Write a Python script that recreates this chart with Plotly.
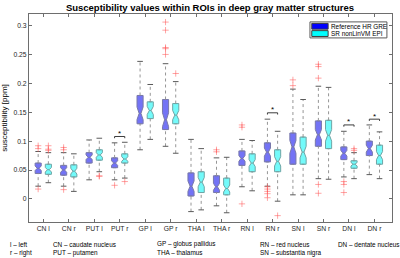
import plotly.graph_objects as go

regions = ["CN l", "CN r", "PUT l", "PUT r", "GP l", "GP r", "THA l", "THA r",
           "RN l", "RN r", "SN l", "SN r", "DN l", "DN r"]

# Reference HR GRE
ref_q1 = [0.044, 0.041, 0.062, 0.054, 0.130, 0.120, 0.005, 0.011, 0.058, 0.064, 0.060, 0.091, 0.068, 0.075]
ref_med = [0.053, 0.050, 0.072, 0.062, 0.148, 0.137, 0.022, 0.021, 0.070, 0.081, 0.090, 0.111, 0.079, 0.087]
ref_q3 = [0.062, 0.058, 0.080, 0.071, 0.179, 0.172, 0.045, 0.040, 0.083, 0.097, 0.114, 0.135, 0.090, 0.100]
ref_lo = [0.022, 0.022, 0.033, 0.033, 0.085, 0.091, -0.022, -0.012, 0.021, 0.022, 0.007, 0.035, 0.038, 0.042]
ref_hi = [0.082, 0.080, 0.102, 0.097, 0.238, 0.234, 0.103, 0.071, 0.103, 0.138, 0.190, 0.195, 0.117, 0.128]
ref_notch = [0.004, 0.004, 0.004, 0.004, 0.011, 0.012, 0.009, 0.006, 0.005, 0.007, 0.011, 0.009, 0.005, 0.006]
ref_out = [[0.092, 0.087, 0.017], [0.089, 0.085, 0.016], [], [0.0235], [],
           [0.306, 0.292, 0.262, 0.260, 0.250], [], [0.085, 0.0815],
           [0.128, 0.124, -0.0086], [0.021, 0.017, 0.013, 0.009, 0.002],
           [0.206, 0.196], [0.233, 0.229, 0.209, 0.025, 0.0097], [0.030, 0.025, 0.011], []]

# SR nonLinVM EPI
sr_q1 = [0.0425, 0.038, 0.067, 0.062, 0.139, 0.130, 0.011, 0.007, 0.047, 0.047, 0.060, 0.087, 0.053, 0.060]
sr_med = [0.0505, 0.048, 0.076, 0.069, 0.153, 0.145, 0.029, 0.018, 0.062, 0.065, 0.081, 0.110, 0.060, 0.075]
sr_q3 = [0.060, 0.059, 0.085, 0.078, 0.168, 0.165, 0.047, 0.036, 0.078, 0.085, 0.107, 0.136, 0.066, 0.093]
sr_lo = [0.028, 0.013, 0.047, 0.036, 0.103, 0.079, -0.019, -0.024, 0.014, -0.004, 0.007, 0.034, 0.035, 0.035]
sr_hi = [0.080, 0.078, 0.105, 0.098, 0.198, 0.203, 0.087, 0.072, 0.101, 0.117, 0.172, 0.193, 0.080, 0.116]
sr_notch = [0.004, 0.005, 0.004, 0.004, 0.007, 0.008, 0.008, 0.006, 0.006, 0.008, 0.010, 0.010, 0.003, 0.007]
sr_out = [[0.092, 0.086, 0.084], [], [0.040, 0.039], [0.030], [], [0.217], [], [],
          [], [-0.029], [], [], [0.087, 0.084], []]

# significance markers (region index, bracket height)
sig_idx = [3, 9, 12, 13]
sig_y = [0.108, 0.149, 0.128, 0.138]

legend_labels = ["Reference HR GRE", "SR nonLinVM EPI"]
legend_colors = ["rgb(0,0,255)", "rgb(0,255,255)"]
footnotes = [
    ("l – left", -0.058, -0.106), ("r – right", -0.058, -0.149),
    ("CN – caudate nucleus", 0.06, -0.106), ("PUT – putamen", 0.06, -0.149),
    ("GP – globus pallidus", 0.347, -0.106), ("THA – thalamus", 0.347, -0.149),
    ("RN – red nucleus", 0.631, -0.106), ("SN – substantia nigra", 0.631, -0.149),
    ("DN – dentate nucleus", 0.845, -0.106),
]

OFF = 0.2
BW = 0.24
pos = list(range(1, len(regions) + 1))
FONT = "Liberation Sans, Arial, sans-serif"

fig = go.Figure()

series = [
    (ref_q1, ref_med, ref_q3, ref_lo, ref_hi, ref_notch, ref_out, -OFF,
     "rgb(115,115,245)", "rgb(120,120,170)"),
    (sr_q1, sr_med, sr_q3, sr_lo, sr_hi, sr_notch, sr_out, OFF,
     "rgb(115,250,250)", "rgb(110,165,165)"),
]

for (q1, med, q3, lo, hi, nt, outs, off, fill, edge), name in zip(series, legend_labels):
    xs = [p + off for p in pos]
    wx, wy = [], []
    for x, a, b, c, d in zip(xs, lo, q1, q3, hi):
        wx += [x, x, None, x, x, None]
        wy += [a, b, None, c, d, None]
    fig.add_trace(go.Scatter(x=wx, y=wy, mode="lines", showlegend=False, hoverinfo="skip",
                             line=dict(color="rgb(150,150,150)", width=1, dash="dot")))
    fig.add_trace(go.Scatter(x=xs + xs, y=lo + hi, mode="markers", showlegend=False,
                             hoverinfo="skip",
                             marker=dict(symbol="line-ew-open", size=4, color="rgb(90,90,90)",
                                         line=dict(color="rgb(90,90,90)", width=1))))
    fig.add_trace(go.Box(x=xs, q1=q1, median=med, q3=q3, lowerfence=q1, upperfence=q3,
                         notched=True, notchspan=nt, notchwidth=0.35, width=BW,
                         fillcolor=fill, line=dict(color=edge, width=1),
                         showlegend=False, name=name, boxpoints=False))
    ox, oy = [], []
    for x, o in zip(xs, outs):
        ox += [x] * len(o)
        oy += o
    fig.add_trace(go.Scatter(x=ox, y=oy, mode="markers", showlegend=False, hoverinfo="skip",
                             marker=dict(symbol="cross-thin-open", size=4.5,
                                         color="rgba(255,90,90,0.55)",
                                         line=dict(color="rgba(255,90,90,0.55)", width=1))))

# significance brackets
bx, by = [], []
for i, yv in zip(sig_idx, sig_y):
    p = pos[i]
    bx += [p - OFF, p - OFF, p + OFF, p + OFF, None]
    by += [yv - 0.003, yv, yv, yv - 0.003, None]
    fig.add_annotation(x=p, y=yv, text="*", showarrow=False, yshift=3,
                       font=dict(size=8, color="black", family=FONT))
fig.add_trace(go.Scatter(x=bx, y=by, mode="lines", showlegend=False, hoverinfo="skip",
                         line=dict(color="rgb(60,60,60)", width=1)))

for txt, xp, yp in footnotes:
    fig.add_annotation(x=xp, y=yp, xref="paper", yref="paper", text=txt, showarrow=False,
                       xanchor="left", yanchor="middle",
                       font=dict(size=6.4, color="black", family=FONT))

# legend drawn as a MATLAB-style box
fig.add_shape(type="rect", xref="paper", yref="paper", x0=0.774, x1=0.986, y0=0.885, y1=0.962,
              fillcolor="white", line=dict(color="rgb(90,90,90)", width=1), layer="above")
sw_y = [(0.927, 0.955), (0.892, 0.920)]
for (y0, y1), col, lab in zip(sw_y, legend_colors, legend_labels):
    fig.add_shape(type="rect", xref="paper", yref="paper", x0=0.779, x1=0.824, y0=y0, y1=y1,
                  fillcolor=col, line=dict(color="rgb(60,60,60)", width=1), layer="above")
    fig.add_annotation(x=0.826, y=(y0 + y1) / 2, xref="paper", yref="paper", text=lab,
                       showarrow=False, xanchor="left", yanchor="middle",
                       font=dict(size=6.4, color="black", family=FONT))

axis_common = dict(showline=True, linecolor="rgb(110,110,110)", linewidth=1, mirror="ticks",
                   ticks="inside", ticklen=3, tickcolor="rgb(110,110,110)",
                   showgrid=False, zeroline=False, tickfont=dict(size=6.8), automargin=False)

fig.update_layout(
    template="none",
    width=400, height=258,
    margin=dict(l=29, r=8, t=14, b=36),
    paper_bgcolor="white", plot_bgcolor="white",
    boxmode="overlay", showlegend=False,
    font=dict(family=FONT, size=7, color="rgb(38,38,38)"),
    title=dict(text="<b>Susceptibility values within ROIs in deep gray matter structures</b>",
               x=0.525, xanchor="center", y=0.97, yanchor="middle",
               font=dict(size=9.5, color="black", family=FONT)),
    xaxis=dict(range=[0.44, 14.69], tickvals=pos, ticktext=regions, **axis_common),
    yaxis=dict(range=[-0.04, 0.32],
               tickvals=[0, 0.05, 0.1, 0.15, 0.2, 0.25, 0.3],
               ticktext=["0", "0.05", "0.1", "0.15", "0.2", "0.25", "0.3"],
               title=dict(text="susceptibility [ppm]", standoff=4,
                          font=dict(size=8, color="black")),
               **axis_common),
)

fig.write_html("out.html", config={"displayModeBar": False},
               post_script="document.body.style.margin='0px';document.body.style.overflow='hidden';")
